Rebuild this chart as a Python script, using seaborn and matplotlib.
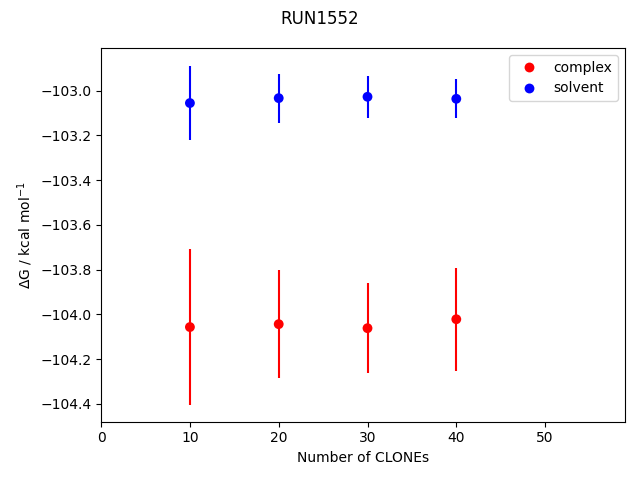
import pandas as pd
import matplotlib
matplotlib.use("Agg")
import matplotlib.pyplot as plt
import seaborn as sns

# values
clones = [10, 20, 30, 40]
complex_dg = [-104.057, -104.044, -104.062, -104.022]
complex_err = [0.35, 0.242, 0.20, 0.23]
solvent_dg = [-103.056, -103.034, -103.028, -103.037]
solvent_err = [0.166, 0.11, 0.093, 0.088]

df = pd.DataFrame({
    "clones": clones * 2,
    "dg": complex_dg + solvent_dg,
    "err": complex_err + solvent_err,
    "phase": ["complex"] * 4 + ["solvent"] * 4,
})

colors = {"complex": "red", "solvent": "blue"}

fig, ax = plt.subplots(figsize=(6.4, 4.8), dpi=100)

for phase, sub in df.groupby("phase"):
    ax.errorbar(sub["clones"], sub["dg"], yerr=sub["err"], fmt="none",
                ecolor=colors[phase], elinewidth=1.5)

sns.scatterplot(data=df, x="clones", y="dg", hue="phase", palette=colors,
                s=50, linewidth=0, ax=ax, zorder=3)

ax.set_xlim(0, 59)
ax.set_ylim(-104.48, -102.81)
ax.set_xlabel("Number of CLONEs")
ax.set_ylabel(r"$\Delta$G / kcal mol$^{-1}$")
ax.legend(loc="upper right")
fig.suptitle("RUN1552")
fig.tight_layout()
fig.savefig("out.png")
